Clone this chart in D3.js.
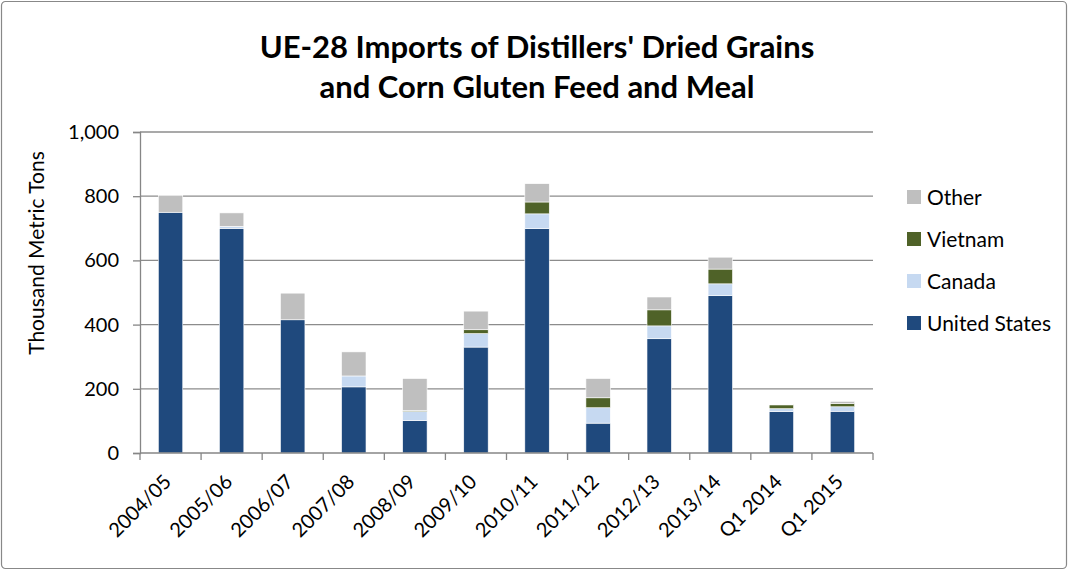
<!DOCTYPE html>
<html>
<head>
<meta charset="utf-8">
<script src="https://cdn.jsdelivr.net/npm/d3@7"></script>
<style>
  body { margin: 0; background: #fff; }
  text { font-family: Lato, "Open Sans", sans-serif; fill: #000; }
</style>
</head>
<body>
<div id="chart"></div>
<script>
// categories and series (thousand metric tons)
var categories = ["2004/05", "2005/06", "2006/07", "2007/08", "2008/09", "2009/10",
                  "2010/11", "2011/12", "2012/13", "2013/14", "Q1 2014", "Q1 2015"];
var unitedStates = [750, 700, 415, 206, 101, 330, 699, 93, 356, 490, 129, 130];
var canada       = [0, 6, 0, 34, 28, 42, 46, 48, 40, 37, 9, 14];
var vietnam      = [0, 0, 0, 0, 3, 12, 37, 31, 50, 46, 12, 10];
var other        = [52, 42, 83, 75, 100, 58, 57, 60, 40, 37, 2, 7];
var seriesNames  = ["United States", "Canada", "Vietnam", "Other"];
var yTicks       = [0, 200, 400, 600, 800, 1000];

(function () {
    var W = 1069, H = 571;
    var margin = { top: 132, right: 196, bottom: 118, left: 140 },
        width = W - margin.left - margin.right,
        height = H - margin.top - margin.bottom;

    var colors = {
        "United States": "#1F497D",
        "Canada": "#C6D9F1",
        "Vietnam": "#4F6228",
        "Other": "#BFBFBF"
    };

    var svg = d3.select("#chart")
        .append("svg")
        .attr("width", W)
        .attr("height", H);

    // outer chart border
    svg.append("rect")
        .attr("x", 1.5).attr("y", 1.5)
        .attr("width", W - 4).attr("height", H - 4)
        .attr("rx", 4)
        .attr("fill", "#fff")
        .attr("stroke", "#888")
        .attr("stroke-width", 1.2);

    // title
    var title = svg.append("text")
        .attr("text-anchor", "middle")
        .style("font-size", "31px")
        .style("font-weight", "bold");
    title.append("tspan").attr("x", 537).attr("y", 58).text("UE-28 Imports of Distillers' Dried Grains");
    title.append("tspan").attr("x", 537).attr("y", 98).text("and Corn Gluten Feed and Meal");

    var g = svg.append("g")
        .attr("transform", "translate(" + margin.left + "," + margin.top + ")");

    var x = d3.scaleBand()
        .domain(categories)
        .range([0, width])
        .paddingInner(0.6)
        .paddingOuter(0.3);

    var y = d3.scaleLinear()
        .domain([0, 1000])
        .range([height, 0]);

    // gridlines
    g.selectAll(".grid")
        .data(yTicks.slice(1))
        .enter()
        .append("line")
        .attr("x1", 0).attr("x2", width)
        .attr("y1", function (d) { return y(d); })
        .attr("y2", function (d) { return y(d); })
        .attr("stroke", "#8c8c8c")
        .attr("stroke-width", 1.3);

    // stack the data
    var rows = categories.map(function (c, i) {
        return { cat: c, "United States": unitedStates[i], "Canada": canada[i],
                 "Vietnam": vietnam[i], "Other": other[i] };
    });
    var stacked = d3.stack().keys(seriesNames)(rows);

    g.selectAll(".series")
        .data(stacked)
        .enter()
        .append("g")
        .attr("fill", function (d) { return colors[d.key]; })
        .selectAll("rect")
        .data(function (d) { return d; })
        .enter()
        .append("rect")
        .attr("x", function (d) { return x(d.data.cat); })
        .attr("y", function (d) { return y(d[1]); })
        .attr("width", x.bandwidth())
        .attr("height", function (d) { return Math.max(0, y(d[0]) - y(d[1])); })
        .attr("stroke", "#fff")
        .attr("stroke-width", function (d) { return d[1] - d[0] > 0 ? 0.6 : 0; });

    // Y axis
    var yAxis = g.append("g")
        .call(d3.axisLeft(y).tickValues(yTicks).tickSize(7).tickPadding(14)
            .tickFormat(d3.format(",")));
    yAxis.select(".domain").attr("stroke", "#868686").attr("stroke-width", 1.3);
    yAxis.selectAll(".tick line").attr("stroke", "#868686").attr("stroke-width", 1.3);
    yAxis.selectAll(".tick text").style("font-size", "20px").attr("fill", "#000");

    // X axis with ticks at band boundaries
    var xAxisG = g.append("g")
        .attr("transform", "translate(0," + height + ")");
    xAxisG.append("line")
        .attr("x1", 0).attr("x2", width)
        .attr("stroke", "#868686").attr("stroke-width", 1.3);
    var bounds = d3.range(categories.length + 1).map(function (i) { return i * width / categories.length; });
    xAxisG.selectAll(".xtick")
        .data(bounds)
        .enter()
        .append("line")
        .attr("x1", function (d) { return d; })
        .attr("x2", function (d) { return d; })
        .attr("y1", 0).attr("y2", 7)
        .attr("stroke", "#868686").attr("stroke-width", 1.3);

    xAxisG.selectAll(".xlabel")
        .data(categories)
        .enter()
        .append("text")
        .attr("text-anchor", "end")
        .attr("transform", function (d) {
            var cx = x(d) + x.bandwidth() / 2 + 2;
            return "translate(" + cx + ",30) rotate(-45)";
        })
        .style("font-size", "20px")
        .text(function (d) { return d; });

    // Y axis label
    svg.append("text")
        .attr("transform", "translate(44,253) rotate(-90)")
        .attr("text-anchor", "middle")
        .style("font-size", "21px")
        .text("Thousand Metric Tons");

    // legend (reverse order, Other on top)
    var legendItems = seriesNames.slice().reverse();
    var legend = svg.append("g")
        .attr("transform", "translate(907,197)");
    var item = legend.selectAll(".item")
        .data(legendItems)
        .enter()
        .append("g")
        .attr("transform", function (d, i) { return "translate(0," + (i * 42) + ")"; });
    item.append("rect")
        .attr("x", 0).attr("y", -7)
        .attr("width", 14).attr("height", 14)
        .attr("fill", function (d) { return colors[d]; });
    item.append("text")
        .attr("x", 20).attr("y", 7.5)
        .style("font-size", "21px")
        .text(function (d) { return d; });
})();
</script>
</body>
</html>
